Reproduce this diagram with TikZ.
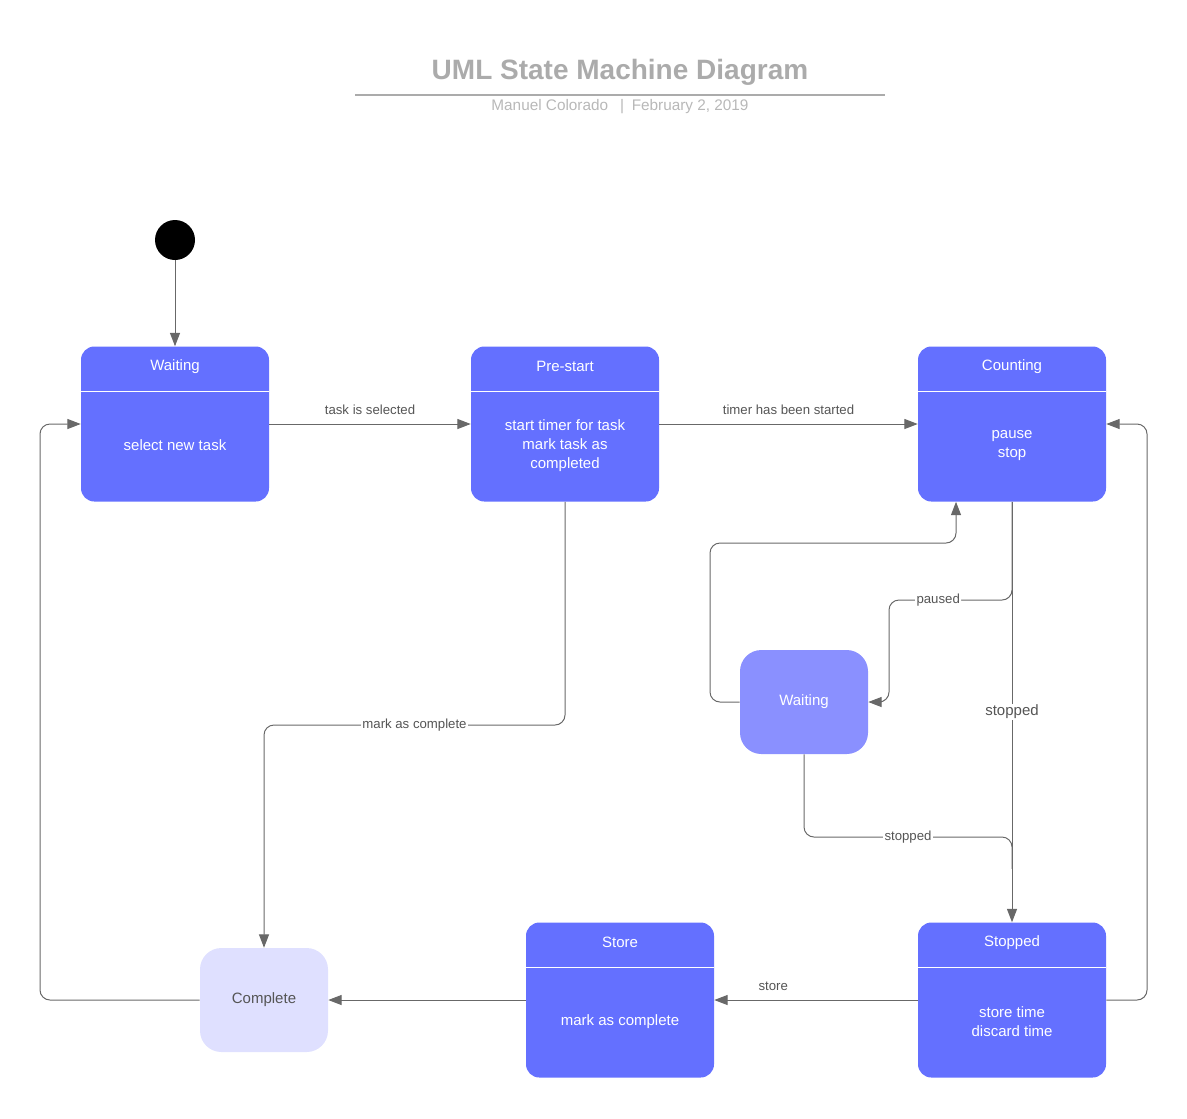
\documentclass[tikz,border=0pt]{standalone}
\usepackage{fontspec}
\setmainfont{Liberation Sans}
\usetikzlibrary{arrows.meta}

\definecolor{umlblue}{HTML}{6470FF}
\definecolor{umllight}{HTML}{8A90FF}
\definecolor{umlpale}{HTML}{DFE0FF}
\definecolor{umlline}{HTML}{686868}
\definecolor{umltext}{HTML}{555555}
\definecolor{umlgray}{HTML}{ABABAB}

\tikzset{
    statebox/.style={fill=umlblue, rounded corners=10pt, minimum width=141pt, minimum height=116.25pt, inner sep=0pt},
    statetitle/.style={text=white, font=\fontsize{11.25}{13.5}\selectfont},
    statebody/.style={text=white, align=center, font=\fontsize{11.25}{14.25}\selectfont},
    simplestate/.style={rounded corners=16pt, minimum width=96pt, minimum height=78pt, inner sep=0pt, font=\fontsize{11.25}{13.5}\selectfont},
    trans/.style={draw=umlline, line width=0.75pt, -{Triangle[length=10pt,width=7.5pt]}},
    translabel/.style={text=umltext, font=\fontsize{9.9}{11.5}\selectfont, inner sep=1pt},
}

\newcommand{\umlstatebox}[4]{%
    \node[statebox] (#1) at (#2) {};
    \node[statetitle] (#1-title) at ([yshift=-15pt]#1.north) {#3};
    \draw[white, line width=0.75pt] ([yshift=-33.75pt]#1.north west) -- ([yshift=-33.75pt]#1.north east);
    \node[statebody] (#1-body) at ([yshift=-74.25pt]#1.north) {#4};
}

\begin{document}
\begin{tikzpicture}[x=0.75pt, y=-0.75pt]
    \useasboundingbox (0,0) rectangle (1187,1118);

    \node[font=\bfseries\fontsize{21}{25}\selectfont, text=umlgray] (title) at (620,72) {UML State Machine Diagram};
    \draw[umlgray, line width=1.2pt] (355,95) -- (885,95);
    \node[font=\fontsize{11.5}{13.5}\selectfont, text=umlgray!85] (subtitle) at (620,107) {Manuel Colorado \enspace|\enspace February 2, 2019};

    \node[circle, fill=black, minimum size=30pt, inner sep=0pt] (init) at (175,240) {};

    \umlstatebox{waiting}{175,424}{Waiting}{select new task}
    \umlstatebox{prestart}{565,424}{Pre-start}{start timer for task\\mark task as\\completed}
    \umlstatebox{counting}{1012,424}{Counting}{pause\\stop}
    \umlstatebox{store}{620,1000}{Store}{mark as complete}
    \umlstatebox{stopped}{1012,1000}{Stopped}{store time\\discard time}

    \node[simplestate, fill=umllight, text=white] (paused) at (804,702) {Waiting};
    \node[simplestate, fill=umlpale, text=umltext] (complete) at (264,1000) {Complete};

    \coordinate (mc) at (264,725);
    \coordinate (pc) at (889,600);
    \coordinate (wl) at (710,543);
    \coordinate (sj) at (1012,837);
    \coordinate (rr) at (1147,424);
    \coordinate (ll) at (40,424);

    \draw[trans] (init) -- (waiting);
    \draw[trans] (waiting) -- node[translabel, above=6pt] {task is selected} (prestart);
    \draw[trans] (prestart) -- node[translabel, above=6pt] {timer has been started} (counting);
    \draw[trans, rounded corners=7.5pt] (prestart.south) |- node[translabel, pos=0.75, fill=white] {mark as complete} (mc) -- (complete.north);
    \draw[trans] (counting.south) -- node[statebody, text=umltext, fill=white, inner sep=1pt] {stopped} (stopped.north);
    \draw[trans, rounded corners=7.5pt] (counting.south) |- node[translabel, pos=0.8, fill=white] {paused} (pc) |- (paused.east);
    \draw[trans, rounded corners=7.5pt] (paused.west) -| (wl) -| ([xshift=-42pt]counting.south);
    \draw[draw=umlline, line width=0.75pt, rounded corners=7.5pt] (paused.south) |- node[translabel, pos=0.75, fill=white] {stopped} (sj) -- ([yshift=40pt]stopped.north);
    \draw[trans, rounded corners=7.5pt] (stopped.east) -| (rr) -- (counting.east);
    \draw[trans] (stopped.west) -- node[translabel, above=6pt, pos=0.71] {store} (store.east);
    \draw[trans] (store) -- (complete);
    \draw[trans, rounded corners=7.5pt] (complete.west) -| (ll) -- (waiting.west);
\end{tikzpicture}
\end{document}
